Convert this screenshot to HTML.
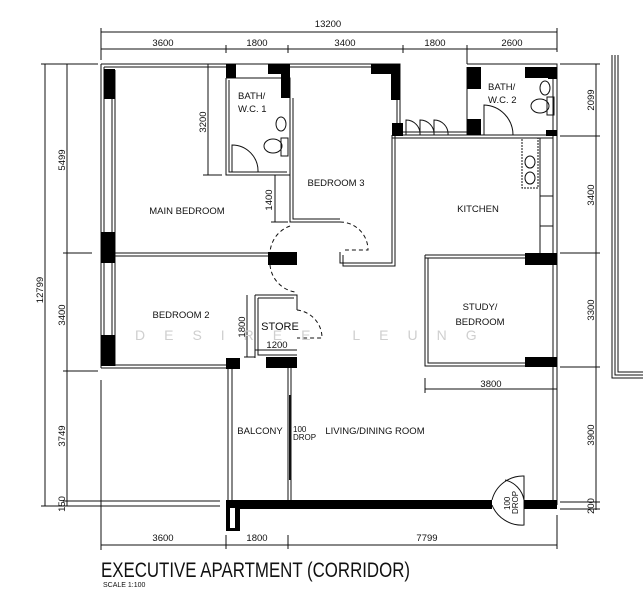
<!DOCTYPE html>
<html><head><meta charset="utf-8"><style>
html,body{margin:0;padding:0;background:#fff;}
svg{display:block;}
text{font-family:"Liberation Sans Narrow","Liberation Sans",sans-serif;fill:#111;}
</style></head><body>
<svg width="643" height="600" viewBox="0 0 643 600" xmlns="http://www.w3.org/2000/svg">
<g stroke="#111" stroke-width="1" fill="none">
<!-- top dims -->
<line x1="101" y1="32" x2="557" y2="32"/>
<line x1="101" y1="49" x2="557" y2="49"/>
<line x1="101" y1="28" x2="101" y2="60"/><line x1="557" y1="28" x2="557" y2="52"/>
<line x1="226" y1="45" x2="226" y2="53"/><line x1="288" y1="45" x2="288" y2="53"/>
<line x1="403" y1="45" x2="403" y2="53"/><line x1="467" y1="45" x2="467" y2="64"/>
<!-- left dims -->
<line x1="45" y1="64" x2="45" y2="506"/><line x1="67" y1="64" x2="67" y2="506"/>
<line x1="41" y1="64" x2="98" y2="64"/><line x1="63" y1="253" x2="92" y2="253"/>
<line x1="63" y1="371" x2="98" y2="371"/><line x1="41" y1="506" x2="220" y2="506"/>
<line x1="63" y1="501" x2="220" y2="501"/>
<line x1="101" y1="380" x2="101" y2="550"/>
<!-- right dims -->
<line x1="596" y1="64" x2="596" y2="510"/>
<line x1="560" y1="64" x2="600" y2="64"/><line x1="560" y1="136" x2="600" y2="136"/>
<line x1="560" y1="253" x2="600" y2="253"/><line x1="560" y1="367" x2="600" y2="367"/>
<line x1="560" y1="502" x2="600" y2="502"/><line x1="560" y1="509" x2="600" y2="509"/>
<!-- right extra -->
<path d="M612 55 V378 H643"/><path d="M615 55 V375 H643"/><path d="M618 55 V372 H643"/>
<!-- bottom dims -->
<line x1="101" y1="545" x2="557" y2="545"/>
<line x1="226" y1="535" x2="226" y2="549"/><line x1="288" y1="535" x2="288" y2="549"/>
<line x1="557" y1="515" x2="557" y2="549"/>
<!-- 3800 dim -->
<line x1="425" y1="389" x2="557" y2="389"/><line x1="425" y1="378" x2="425" y2="393"/>
<!-- inner dims -->
<line x1="208" y1="64" x2="208" y2="175"/><line x1="203" y1="175" x2="222" y2="175"/>
<line x1="275" y1="175" x2="275" y2="222"/><line x1="271" y1="222" x2="288" y2="222"/>
<line x1="247" y1="295" x2="247" y2="357"/><line x1="244" y1="357" x2="255" y2="357"/>
<line x1="255" y1="350" x2="297" y2="350"/>
<!-- outer walls -->
<path d="M101 64 H290"/><path d="M104 67 H226"/><path d="M101 64 V368"/><path d="M104 67 V366"/>
<path d="M112 70 V366"/><path d="M115 70 V366"/>
<path d="M290 64 H400 V135"/><path d="M290 67 H397 V135"/>
<path d="M467 64 H557 V505"/><path d="M467 67 V135"/>
<path d="M553 70 V500"/>
<!-- bath1 -->
<path d="M226 78 H290 V175"/><path d="M226 78 V175 H290"/><path d="M229 80 V172 H287"/>
<path d="M226 78 H268" stroke-dasharray="4,2"/>
<path d="M232 172 V145 A26 26 0 0 1 258 172"/>
<ellipse cx="281" cy="124" rx="5" ry="7"/><ellipse cx="273" cy="146" rx="9" ry="7"/>
<rect x="281" y="138" width="7" height="18"/>
<!-- bedroom 3 -->
<path d="M290 98 V222 H340"/><path d="M293 98 V219 H340"/>
<path d="M392 135 V263 H340 V252"/><path d="M395 135 V266 H343 V255"/>
<path d="M340 222 A28 28 0 0 1 368 250 H345" stroke-dasharray="4,3"/>
<path d="M290 226 A30 30 0 0 0 270 253" stroke-dasharray="4,3"/>
<path d="M270 265 A30 30 0 0 0 295 292" stroke-dasharray="4,3"/>
<!-- kitchen -->
<path d="M392 135 H557"/><path d="M392 138 H553"/>
<path d="M400 132 H467"/>
<path d="M406 135 V120 A14 14 0 0 1 420 135 M420 135 V120 A14 14 0 0 1 434 135 M434 135 V120 A14 14 0 0 1 448 135"/>
<path d="M484 135 V105 A30 30 0 0 1 513 135"/>
<ellipse cx="545" cy="88" rx="5" ry="7"/><ellipse cx="540" cy="106" rx="9" ry="7"/>
<rect x="547" y="97" width="7" height="18"/>
<rect x="522" y="138" width="16" height="50" stroke-dasharray="2,1"/>
<ellipse cx="530" cy="162" rx="5" ry="6"/><ellipse cx="530" cy="178" rx="5" ry="6"/>
<path d="M540 138 V253 M540 196 H553 M540 226 H553"/>
<path d="M425 255 H557"/><path d="M425 258 H525"/>
<!-- study -->
<path d="M425 255 V366 H557"/><path d="M428 258 V363 H525"/>
<!-- mid divider main/bed2 -->
<path d="M115 253 H268"/><path d="M115 256 H268"/>
<path d="M101 368 H226"/><path d="M104 365 H226"/>
<!-- store -->
<path d="M255 295 H297 V310"/><path d="M258 298 H294"/><path d="M255 295 V358"/><path d="M258 298 V355 H297"/>
<path d="M297 310 A28 28 0 0 1 322 338 H297" stroke-dasharray="4,3"/>
<!-- balcony -->
<path d="M228 368 V500"/><path d="M232 368 V500"/>
<path d="M288 368 V500"/><path d="M291 368 V500"/>
<path d="M290 395 V480" stroke-width="2"/>
<!-- entrance door -->
<path d="M492 500 A32 32 0 0 1 524 476 V525 A32 32 0 0 1 492 505"/>
<path d="M524 500 A25 25 0 0 0 505 480"/>
</g>
<!-- black blocks -->
<g fill="#000">
<rect x="104" y="69" width="11" height="30"/><rect x="101" y="232" width="14" height="31"/>
<rect x="101" y="335" width="14" height="31"/>
<rect x="226" y="64" width="10" height="14"/><rect x="268" y="64" width="22" height="10"/><rect x="281" y="64" width="9" height="34"/>
<rect x="371" y="64" width="29" height="10"/><rect x="391" y="64" width="9" height="36"/>
<rect x="392" y="123" width="11" height="13"/>
<rect x="467" y="67" width="14" height="22"/><rect x="467" y="119" width="14" height="16"/>
<rect x="525" y="67" width="32" height="11"/><rect x="548" y="67" width="9" height="12"/>
<rect x="546" y="130" width="11" height="6"/>
<rect x="525" y="253" width="32" height="12"/><rect x="525" y="357" width="32" height="10"/>
<rect x="268" y="252" width="29" height="13"/>
<rect x="226" y="358" width="14" height="11"/><rect x="266" y="357" width="31" height="11"/>
<rect x="226" y="500" width="266" height="9"/><rect x="524" y="500" width="33" height="9"/>
<rect x="226" y="500" width="14" height="31"/>
</g>
<rect x="230" y="508" width="5" height="20" fill="#fff"/>
<!-- watermark -->
<text x="135" y="340" font-size="14" fill="#ccc" style="fill:#cfcfcf;letter-spacing:19px">DESIREE LEUNG</text>
<!-- labels -->
<g font-size="9.5">
<text x="328" y="27" text-anchor="middle">13200</text>
<text x="163" y="46" text-anchor="middle">3600</text><text x="257" y="46" text-anchor="middle">1800</text>
<text x="345" y="46" text-anchor="middle">3400</text><text x="435" y="46" text-anchor="middle">1800</text>
<text x="512" y="46" text-anchor="middle">2600</text>
<text x="163" y="541" text-anchor="middle">3600</text><text x="257" y="541" text-anchor="middle">1800</text>
<text x="427" y="541" text-anchor="middle">7799</text>
<text x="171" y="387" text-anchor="middle" font-size="9" transform="translate(0,0)"></text>
<text x="491" y="387" text-anchor="middle">3800</text>
<text x="277" y="348" text-anchor="middle">1200</text>
<text transform="translate(65,160) rotate(-90)" text-anchor="middle">5499</text>
<text transform="translate(43,290) rotate(-90)" text-anchor="middle">12799</text>
<text transform="translate(65,315) rotate(-90)" text-anchor="middle">3400</text>
<text transform="translate(65,436) rotate(-90)" text-anchor="middle">3749</text>
<text transform="translate(65,504) rotate(-90)" text-anchor="middle">150</text>
<text transform="translate(206,122) rotate(-90)" text-anchor="middle">3200</text>
<text transform="translate(272,200) rotate(-90)" text-anchor="middle">1400</text>
<text transform="translate(245,327) rotate(-90)" text-anchor="middle">1800</text>
<text transform="translate(594,100) rotate(-90)" text-anchor="middle">2099</text>
<text transform="translate(594,195) rotate(-90)" text-anchor="middle">3400</text>
<text transform="translate(594,310) rotate(-90)" text-anchor="middle">3300</text>
<text transform="translate(594,435) rotate(-90)" text-anchor="middle">3900</text>
<text transform="translate(594,506) rotate(-90)" text-anchor="middle">200</text>
<text x="238" y="99">BATH/</text><text x="238" y="112">W.C. 1</text>
<text x="488" y="90">BATH/</text><text x="488" y="103">W.C. 2</text>
<text x="187" y="214" text-anchor="middle">MAIN BEDROOM</text>
<text x="336" y="186" text-anchor="middle">BEDROOM 3</text>
<text x="478" y="212" text-anchor="middle">KITCHEN</text>
<text x="181" y="318" text-anchor="middle">BEDROOM 2</text>
<text x="480" y="310" text-anchor="middle">STUDY/</text><text x="480" y="325" text-anchor="middle">BEDROOM</text>
<text x="260" y="434" text-anchor="middle">BALCONY</text>
<text x="375" y="434" text-anchor="middle">LIVING/DINING ROOM</text>
<text x="280" y="330" text-anchor="middle" font-size="11">STORE</text>
<text x="293" y="432" font-size="8">100</text><text x="293" y="440" font-size="8">DROP</text>
<text transform="translate(510,510) rotate(-90)" font-size="8">100</text>
<text transform="translate(518,514) rotate(-90)" font-size="8">DROP</text>
</g>
<text x="101" y="577" font-size="21" style="font-weight:300" textLength="309" lengthAdjust="spacingAndGlyphs">EXECUTIVE APARTMENT (CORRIDOR)</text>
<text x="103" y="587" font-size="7">SCALE 1:100</text>
</svg>
</body></html>
